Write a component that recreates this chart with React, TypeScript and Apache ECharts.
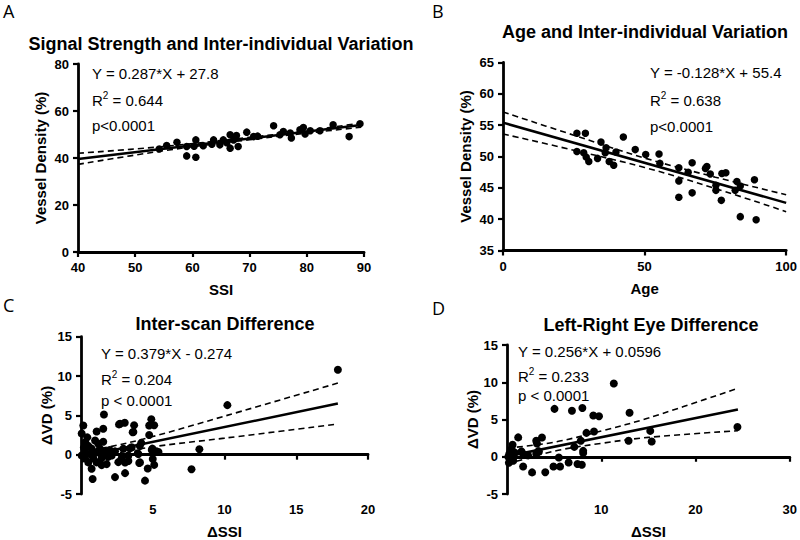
import React, { useEffect, useRef } from "react";
import * as echarts from "echarts";

const FONT = "'Liberation Sans', Arial, Helvetica, sans-serif";
const LETTER_FONT = "'Open Sans', 'Noto Sans', sans-serif";

// ---------- Panel A: SSI vs Vessel Density ----------
const pointsA: [number, number][] = [
  [54.2, 43.8], [55.5, 45.3], [57.3, 46.7], [59.0, 44.9], [59.0, 40.9], [60.6, 47.7],
  [60.6, 40.3], [60.3, 45.0], [61.9, 45.2], [63.4, 45.9], [63.7, 47.7], [64.8, 45.6],
  [65.4, 47.7], [66.0, 46.5], [66.6, 49.9], [66.6, 44.2], [67.2, 47.7], [67.7, 49.6],
  [68.0, 44.9], [69.5, 51.0], [70.7, 49.1], [71.4, 49.3], [74.2, 53.7], [75.3, 49.9],
  [75.9, 51.3], [77.1, 50.6], [77.3, 48.5], [78.8, 52.0], [79.4, 53.0], [79.7, 50.2],
  [80.6, 51.6], [82.3, 51.6], [84.6, 54.1], [87.4, 49.1], [89.3, 54.6],
];
const fitA: [number, number][] = [[40, 39.6], [89.5, 54.0]];
const upperA: [number, number][] = [[40, 42.0], [55, 44.9], [70, 48.8], [80, 51.6], [89.5, 54.9]];
const lowerA: [number, number][] = [[40, 37.3], [55, 43.1], [70, 47.8], [80, 50.6], [89.5, 53.1]];

// ---------- Panel B: Age vs Vessel Density ----------
const pointsB: [number, number][] = [
  [26.1, 53.7], [29.1, 53.7], [26.1, 50.8], [28.5, 50.6], [29.4, 49.9], [30.3, 49.2],
  [33.4, 49.7], [34.6, 52.3], [36.4, 51.4], [36.1, 50.6], [37.5, 49.2], [39.1, 48.6],
  [39.9, 50.7], [42.5, 53.1], [46.7, 51.1], [50.4, 50.3], [55.1, 50.4], [55.4, 48.9],
  [62.1, 48.2], [62.1, 46.1], [62.1, 43.5], [65.4, 47.5], [66.8, 49.0], [66.8, 44.2],
  [71.5, 48.1], [72.0, 48.4], [73.2, 47.2], [75.2, 45.4], [75.2, 44.6], [77.1, 43.0],
  [77.3, 47.3], [78.7, 47.4], [82.6, 46.0], [83.8, 45.3], [82.0, 44.6], [83.8, 40.4],
  [88.8, 46.3], [89.4, 39.9],
];
const fitB: [number, number][] = [[0, 55.4], [100, 42.6]];
const upperB: [number, number][] = [[0, 57.1], [25, 53.4], [50, 49.75], [75, 46.7], [100, 43.9]];
const lowerB: [number, number][] = [[0, 53.6], [25, 51.0], [50, 48.25], [75, 44.9], [100, 41.2]];

// ---------- Panel C: Inter-scan difference ----------
const pointsC: [number, number][] = [
  [0.16, 3.7], [0.05, 2.7], [0.44, 2.2], [1.09, 2.95], [1.6, 5.1], [1.55, 3.3], [0.98, 1.8],
  [1.55, 1.65], [2.65, 3.85], [3.05, 4.05], [3.7, 3.75], [3.6, 2.85], [4.9, 4.5], [5.1, 3.75],
  [4.75, 3.7], [4.75, 2.5], [5.4, 0.35], [4.97, 0.77], [5.0, -0.56], [5.1, -1.3], [4.65, -1.75],
  [4.46, -3.3], [7.7, -1.85], [8.25, 0.7], [10.2, 6.3], [17.9, 10.8], [0.81, -3.1], [2.37, -2.85],
  [3.07, -2.35], [0.74, -1.8], [1.44, -1.33], [1.79, -1.2], [2.6, -0.95], [3.07, -1.0], [3.3, -0.8],
  [4.06, -1.05], [3.95, 0.18], [3.4, 0.8], [4.2, 1.5], [4.1, 1.1], [0.51, 1.12], [0.74, 0.77],
  [0.28, 0.42], [0.63, 0.07], [0.98, 0.24], [1.32, 0.77], [1.67, 0.42], [1.9, -0.28], [1.44, -0.46],
  [0.86, -0.46], [0.28, -0.46], [0.05, -0.1], [0.51, -0.98], [1.09, -0.98], [2.14, -0.1], [2.37, 0.42],
  [2.95, 0.77], [3.53, 0.95], [3.3, -0.1], [2.83, -0.46], [4.11, -0.98], [4.0, 0.07], [4.93, 0.6],
  [5.27, 0.42], [3.65, 2.88], [2.72, 3.93], [0.3, 1.6], [1.2, 1.4], [0.2, 0.9], [1.3, 0.2], [2.0, 0.6],
];
const fitC: [number, number][] = [[0, -0.27], [17.9, 6.5]];
const upperC: [number, number][] = [[0, 0.4], [2, 1.0], [5, 2.3], [10, 4.9], [17.9, 9.1]];
const lowerC: [number, number][] = [[0, -0.95], [2, 0.0], [5, 1.0], [10, 2.1], [17.9, 3.9]];

// ---------- Panel D: Left-right eye difference ----------
const pointsD: [number, number][] = [
  [11.33, 9.83], [5.04, 6.43], [6.89, 6.18], [8.0, 6.54], [9.16, 5.54], [9.76, 5.43], [13.0, 5.9],
  [1.19, 2.6], [3.1, 2.14], [3.71, 2.58], [3.18, 1.79], [3.39, 0.72], [5.5, -0.1], [7.83, 2.14],
  [8.43, 3.2], [9.23, 3.4], [7.14, 1.33], [8.08, 0.79], [8.08, 0.5], [12.9, 2.14], [15.2, 3.47],
  [15.35, 2.04], [24.45, 4.0], [1.71, -1.3], [2.66, -2.1], [4.06, -2.07], [4.93, -1.3], [5.63, -1.3],
  [6.54, -0.78], [7.48, -0.97], [7.94, -1.07], [0.49, 1.07], [0.59, 1.6], [0.24, 0.37], [0.84, 0.54],
  [1.71, 0.37], [0.31, -0.35], [0.66, -0.54], [0.14, 0.0], [3.1, 0.37], [2.24, 0.18], [1.54, 0.72],
  [3.29, 0.72], [0.2, -0.8], [0.4, 0.8],
];
const fitD: [number, number][] = [[0, 0.06], [24.5, 6.33]];
const upperD: [number, number][] = [[0, 1.15], [5, 1.95], [10, 3.45], [15, 5.2], [24.5, 9.2]];
const lowerD: [number, number][] = [[0, -1.0], [5, 0.75], [10, 1.8], [15, 2.6], [24.5, 3.5]];

// ---------- Texts ----------
const titles = [
  "Signal Strength and Inter-individual Variation",
  "Age and Inter-individual Variation",
  "Inter-scan Difference",
  "Left-Right Eye Difference",
];
const letters = ["A", "B", "C", "D"];
const equations = ["Y = 0.287*X + 27.8", "Y = -0.128*X + 55.4", "Y = 0.379*X - 0.274", "Y = 0.256*X + 0.0596"];
const r2Values = ["0.644", "0.638", "0.204", "0.233"];
const pValues = ["p<0.0001", "p<0.0001", "p < 0.0001", "p < 0.0001"];
const xNames = ["SSI", "Age", "ΔSSI", "ΔSSI"];
const yNames = ["Vessel Density (%)", "Vessel Density (%)", "ΔVD (%)", "ΔVD (%)"];

// axis ranges
const xMin = [40, 0, 0, 0];
const xMax = [90, 100, 20, 30];
const xStep = [10, 50, 5, 10];
const yMin = [0, 35, -5, -5];
const yMax = [80, 65, 15, 15];
const yStep = [20, 5, 5, 5];

// layout (pixels)
const grids = [
  { left: 78, top: 64, width: 286, height: 188 },
  { left: 503, top: 62.5, width: 285, height: 188 },
  { left: 81, top: 336.7, width: 287, height: 190 },
  { left: 507, top: 345, width: 286, height: 188.3 },
];
const titlePos = [[221, 44], [645, 32], [225, 324], [651, 325]];
const letterPos = [[3, 11], [432, 11], [3, 305], [432, 308]];
const annoPos = [
  { x: 92, y: [73, 99, 125] },
  { x: 650, y: [72, 99, 126] },
  { x: 101, y: [353, 378, 400] },
  { x: 518, y: [351, 375, 395] },
];
const yNameGap = [30, 30, 26, 27];
const dotSize = [7.5, 7.5, 8, 8];

const allPoints = [pointsA, pointsB, pointsC, pointsD];
const allFits = [fitA, fitB, fitC, fitD];
const allUpper = [upperA, upperB, upperC, upperD];
const allLower = [lowerA, lowerB, lowerC, lowerD];

function buildOption() {
  const axisLine = { show: true, lineStyle: { color: "#000", width: 2.8 } };
  const axisTick = { show: true, inside: false, length: 5, lineStyle: { color: "#000", width: 2.2 } };
  const labelBase = { color: "#000", fontWeight: "bold" as const, fontSize: 13, fontFamily: FONT, margin: 9 };
  const nameStyle = { color: "#000", fontWeight: "bold" as const, fontSize: 15, fontFamily: FONT };

  const xAxis = grids.map((_, i) => ({
    type: "value",
    gridIndex: i,
    min: xMin[i],
    max: xMax[i],
    interval: xStep[i],
    name: xNames[i],
    nameLocation: "middle",
    nameGap: 30,
    nameTextStyle: nameStyle,
    axisLine: { ...axisLine, onZero: true },
    axisTick,
    axisLabel: { ...labelBase, showMinLabel: i < 2 },
    splitLine: { show: false },
  }));
  const yAxis = grids.map((_, i) => ({
    type: "value",
    gridIndex: i,
    min: yMin[i],
    max: yMax[i],
    interval: yStep[i],
    name: yNames[i],
    nameLocation: "middle",
    nameGap: yNameGap[i],
    nameTextStyle: nameStyle,
    axisLine: { ...axisLine, onZero: false },
    axisTick,
    axisLabel: labelBase,
    splitLine: { show: false },
  }));

  const series: any[] = [];
  for (let i = 0; i < 4; i++) {
    series.push({
      type: "scatter",
      xAxisIndex: i,
      yAxisIndex: i,
      data: allPoints[i],
      symbol: "circle",
      symbolSize: dotSize[i],
      itemStyle: { color: "#000", opacity: 1 },
      z: 3,
    });
    series.push({
      type: "line",
      xAxisIndex: i,
      yAxisIndex: i,
      data: allFits[i],
      symbol: "none",
      lineStyle: { color: "#000", width: 2.5 },
      z: 4,
    });
    for (const band of [allUpper[i], allLower[i]]) {
      series.push({
        type: "line",
        xAxisIndex: i,
        yAxisIndex: i,
        data: band,
        symbol: "none",
        smooth: 0.35,
        lineStyle: { color: "#000", width: 1.6, type: [6, 4] },
        z: 4,
      });
    }
  }

  const graphics: any[] = [];
  for (let i = 0; i < 4; i++) {
    graphics.push({
      type: "text",
      x: titlePos[i][0],
      y: titlePos[i][1],
      style: {
        text: titles[i],
        fill: "#000",
        fontSize: 18,
        fontWeight: "bold",
        fontFamily: FONT,
        align: "center",
        textAlign: "center",
        verticalAlign: "middle",
        textVerticalAlign: "middle",
      },
    });
    graphics.push({
      type: "text",
      x: letterPos[i][0],
      y: letterPos[i][1],
      style: {
        text: letters[i],
        fill: "#000",
        fontSize: 18,
        fontFamily: LETTER_FONT,
        align: "left",
        textAlign: "left",
        verticalAlign: "middle",
        textVerticalAlign: "middle",
      },
    });
    const a = annoPos[i];
    graphics.push({
      type: "text",
      x: a.x,
      y: a.y[0],
      style: {
        text: equations[i],
        fill: "#000",
        fontSize: 15,
        fontFamily: FONT,
        align: "left",
        textAlign: "left",
        verticalAlign: "middle",
        textVerticalAlign: "middle",
      },
    });
    graphics.push({
      type: "text",
      x: a.x,
      y: a.y[1],
      style: {
        text: "{r|R}{s|2}{r| = " + r2Values[i] + "}",
        fill: "#000",
        fontFamily: FONT,
        fontSize: 15,
        align: "left",
        textAlign: "left",
        verticalAlign: "middle",
        textVerticalAlign: "middle",
        rich: {
          r: { fontSize: 15, fontFamily: FONT, fill: "#000", lineHeight: 18, verticalAlign: "bottom" },
          s: { fontSize: 10, fontFamily: FONT, fill: "#000", lineHeight: 18, verticalAlign: "top" },
        },
      },
    });
    graphics.push({
      type: "text",
      x: a.x,
      y: a.y[2],
      style: {
        text: pValues[i],
        fill: "#000",
        fontSize: 15,
        fontFamily: FONT,
        align: "left",
        textAlign: "left",
        verticalAlign: "middle",
        textVerticalAlign: "middle",
      },
    });
  }

  return {
    animation: false,
    backgroundColor: "#fff",
    grid: grids.map((g) => ({ ...g, containLabel: false })),
    xAxis,
    yAxis,
    series,
    graphic: graphics,
  };
}

export default function App() {
  const ref = useRef<HTMLDivElement>(null);
  useEffect(() => {
    if (!ref.current) return;
    const chart = echarts.init(ref.current, undefined, { renderer: "svg" });
    chart.setOption(buildOption() as any);
    return () => chart.dispose();
  }, []);
  return (
    <div
      ref={ref}
      style={{ position: "absolute", left: 0, top: 0, width: 800, height: 540, background: "#fff" }}
    />
  );
}
